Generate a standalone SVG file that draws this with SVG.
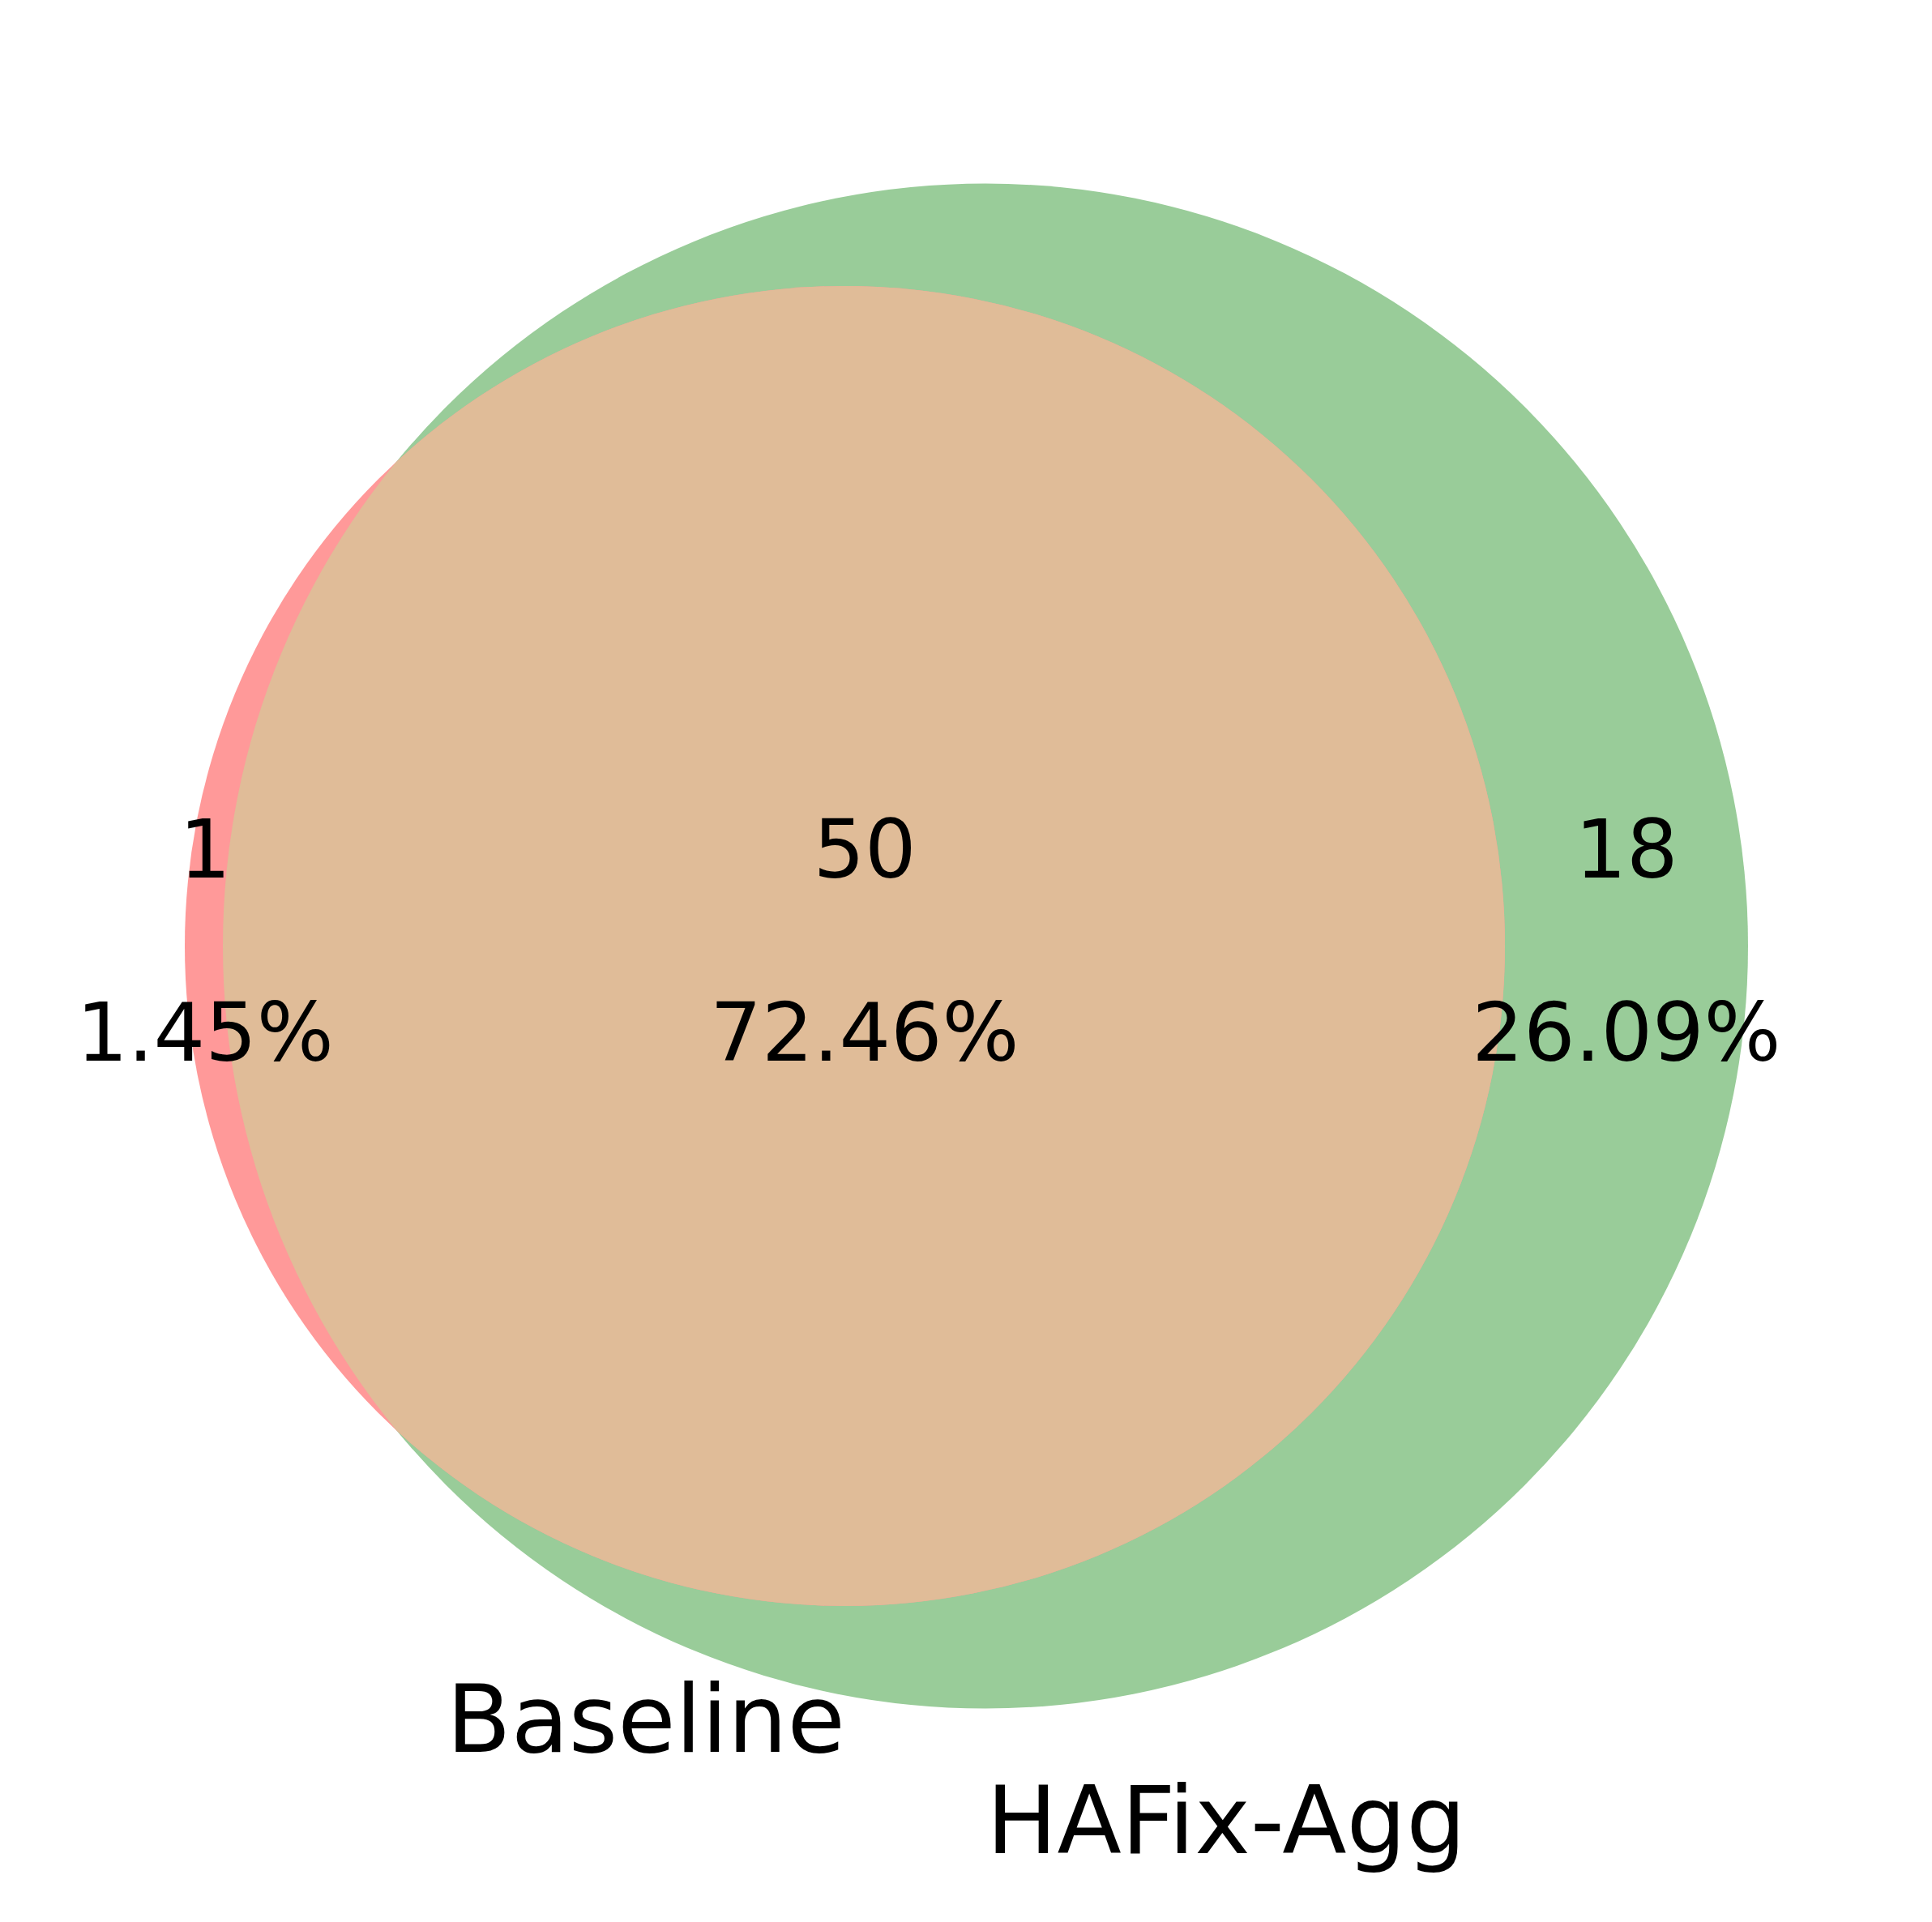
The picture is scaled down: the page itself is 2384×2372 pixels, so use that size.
<svg xmlns="http://www.w3.org/2000/svg" width="2384" height="2372" viewBox="0 0 2384 2372">
  <style>
    .lbl { font-family: "DejaVu Sans", "Liberation Sans", sans-serif; font-size: 100px; fill: #000; text-anchor: middle; }
    .set { font-family: "DejaVu Sans", "Liberation Sans", sans-serif; font-size: 116px; fill: #000; text-anchor: middle; }
  </style>
  <defs>
    <clipPath id="clipGreen">
      <circle cx="1216" cy="1167.5" r="941"/>
    </clipPath>
  </defs>
  <rect x="0" y="0" width="2384" height="2372" fill="#ffffff"/>
  <g id="set-hafix">
    <circle cx="1216" cy="1167.5" r="941" fill="#99cc99"/>
  </g>
  <g id="set-baseline">
    <circle cx="1042.5" cy="1167.5" r="814.5" fill="#ff9999"/>
  </g>
  <g id="overlap">
    <circle cx="1042.5" cy="1167.5" r="814.5" fill="#e0bc98" clip-path="url(#clipGreen)"/>
  </g>
  <g id="connectors"></g>
  <g id="labels">
    <text class="lbl" x="253" y="1083">1</text>
    <text class="lbl" x="253" y="1309">1.45%</text>
    <text class="lbl" x="1067" y="1083">50</text>
    <text class="lbl" x="1067" y="1309">72.46%</text>
    <text class="lbl" x="2007" y="1083">18</text>
    <text class="lbl" x="2007" y="1309">26.09%</text>
    <text class="set" x="797" y="2162">Baseline</text>
    <text class="set" x="1513" y="2287">HAFix-Agg</text>
  </g>
</svg>
